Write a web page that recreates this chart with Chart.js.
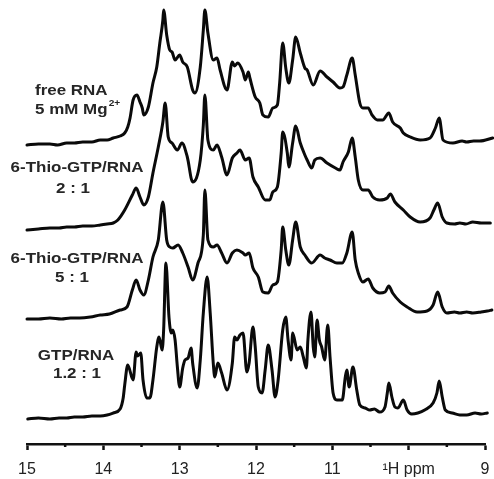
<!DOCTYPE html>
<html>
<head>
<meta charset="utf-8">
<script src="https://cdn.jsdelivr.net/npm/chart.js@4.4.1/dist/chart.umd.min.js"></script>
<style>
  html, body { margin: 0; padding: 0; background: #fff; }
  #wrap { width: 494px; height: 479px; }
</style>
</head>
<body>
<div id="wrap"><canvas id="nmr"></canvas></div>
<script>
// imino proton spectra, [ppm, intensity above the trace's own baseline]
const freeRna = [
  [15.00, 0], [14.85, 1], [14.70, 1], [14.60, 0], [14.48, 2], [14.38, 2], [14.27, 3], [14.15, 3],
  [14.04, 5], [13.95, 5], [13.87, 7], [13.78, 9], [13.72, 12], [13.68, 18], [13.65, 27], [13.61, 45],
  [13.56, 50], [13.52, 43], [13.49, 37], [13.47, 30], [13.41, 38], [13.35, 62], [13.30, 78],
  [13.26, 102], [13.22, 125], [13.21, 135], [13.17, 110], [13.13, 95], [13.10, 93], [13.06, 85],
  [13.00, 90], [12.96, 83], [12.90, 78], [12.83, 55], [12.80, 52], [12.73, 78], [12.69, 115],
  [12.67, 135], [12.63, 112], [12.56, 85], [12.51, 87], [12.47, 75], [12.38, 55], [12.31, 83],
  [12.28, 79], [12.24, 82], [12.17, 73], [12.14, 65], [12.10, 73], [12.08, 67], [12.01, 48],
  [11.95, 42], [11.91, 30], [11.84, 28], [11.78, 37], [11.72, 40], [11.69, 62], [11.65, 102],
  [11.61, 77], [11.57, 62], [11.52, 85], [11.48, 108], [11.42, 92], [11.36, 77], [11.33, 75],
  [11.25, 60], [11.16, 74], [11.07, 68], [10.99, 63], [10.90, 57], [10.86, 58], [10.81, 70],
  [10.74, 87], [10.70, 70], [10.64, 42], [10.60, 37], [10.53, 37], [10.48, 30], [10.41, 25],
  [10.34, 25], [10.26, 32], [10.21, 23], [10.11, 17], [10.07, 12], [9.98, 8], [9.85, 5],
  [9.72, 7], [9.65, 17], [9.60, 27], [9.55, 5], [9.42, 2], [9.30, 4], [9.24, 3], [9.15, 4],
  [9.07, 4], [8.90, 7]
];

const thio2to1 = [
  [15.00, 0], [14.85, 1], [14.70, 2], [14.58, 2], [14.48, 3], [14.38, 3], [14.27, 4], [14.15, 4],
  [14.04, 5], [13.95, 6], [13.87, 7], [13.81, 10], [13.72, 20], [13.62, 35], [13.57, 42],
  [13.52, 33], [13.47, 25], [13.41, 33], [13.35, 57], [13.28, 83], [13.22, 108], [13.19, 127],
  [13.15, 93], [13.10, 87], [13.03, 80], [12.97, 87], [12.90, 73], [12.83, 48], [12.73, 70],
  [12.69, 105], [12.67, 135], [12.63, 90], [12.56, 80], [12.51, 85], [12.45, 73], [12.38, 55],
  [12.31, 72], [12.25, 77], [12.21, 80], [12.14, 70], [12.09, 72], [12.04, 53], [11.97, 43],
  [11.88, 30], [11.82, 30], [11.78, 38], [11.72, 43], [11.67, 77], [11.65, 98], [11.59, 77],
  [11.57, 63], [11.52, 87], [11.48, 104], [11.42, 87], [11.36, 75], [11.33, 70], [11.27, 62],
  [11.23, 70], [11.16, 72], [11.07, 67], [10.96, 62], [10.90, 60], [10.86, 68], [10.79, 78],
  [10.74, 92], [10.70, 73], [10.66, 50], [10.60, 40], [10.53, 40], [10.47, 33], [10.38, 30],
  [10.28, 32], [10.24, 36], [10.18, 28], [10.07, 20], [9.98, 13], [9.85, 8], [9.72, 12],
  [9.67, 20], [9.62, 27], [9.56, 13], [9.50, 7], [9.40, 6], [9.33, 7], [9.25, 6], [9.16, 8],
  [9.05, 7], [8.93, 7]
];

const thio5to1 = [
  [15.00, 0], [14.85, 0], [14.70, 1], [14.55, 0], [14.43, 1], [14.31, 1], [14.17, 2], [14.04, 4],
  [13.92, 5], [13.78, 9], [13.69, 12], [13.62, 29], [13.57, 39], [13.52, 29], [13.47, 24],
  [13.41, 39], [13.35, 62], [13.28, 79], [13.22, 117], [13.17, 79], [13.13, 72], [13.09, 71],
  [13.02, 74], [12.96, 66], [12.89, 52], [12.83, 39], [12.76, 56], [12.69, 84], [12.67, 129],
  [12.63, 79], [12.56, 72], [12.51, 74], [12.45, 66], [12.38, 56], [12.31, 66], [12.25, 69],
  [12.17, 66], [12.14, 64], [12.09, 66], [12.04, 51], [11.97, 42], [11.91, 27], [11.84, 26],
  [11.78, 34], [11.72, 37], [11.67, 69], [11.65, 92], [11.61, 69], [11.57, 54], [11.52, 79],
  [11.48, 97], [11.42, 72], [11.36, 64], [11.27, 56], [11.16, 64], [11.10, 61], [11.03, 59],
  [10.94, 56], [10.87, 56], [10.81, 66], [10.74, 87], [10.70, 59], [10.66, 46], [10.60, 37],
  [10.53, 40], [10.47, 31], [10.38, 26], [10.31, 27], [10.26, 33], [10.21, 26], [10.11, 17],
  [10.02, 12], [9.89, 7], [9.76, 8], [9.68, 14], [9.62, 27], [9.56, 12], [9.50, 6], [9.40, 7],
  [9.33, 6], [9.24, 7], [9.16, 6], [9.05, 7], [8.97, 8], [8.91, 9]
];

const gtp12to1 = [
  [14.99, 0], [14.85, 1], [14.70, 0], [14.58, 1], [14.48, 1], [14.38, 2], [14.27, 2], [14.15, 3],
  [14.04, 3], [13.95, 4], [13.87, 6], [13.78, 10], [13.74, 21], [13.72, 34], [13.68, 54],
  [13.61, 39], [13.57, 67], [13.55, 63], [13.51, 66], [13.48, 39], [13.43, 21], [13.39, 21],
  [13.35, 39], [13.30, 72], [13.27, 82], [13.23, 69], [13.21, 89], [13.18, 156], [13.14, 102],
  [13.11, 86], [13.09, 89], [13.06, 79], [13.03, 52], [13.00, 32], [12.96, 51], [12.93, 59],
  [12.89, 61], [12.85, 71], [12.83, 56], [12.77, 31], [12.73, 59], [12.69, 106], [12.64, 142],
  [12.60, 106], [12.56, 56], [12.54, 42], [12.50, 56], [12.45, 46], [12.38, 29], [12.31, 56],
  [12.28, 82], [12.25, 79], [12.21, 84], [12.17, 86], [12.12, 47], [12.09, 56], [12.04, 92],
  [12.01, 72], [11.97, 32], [11.92, 26], [11.88, 49], [11.84, 74], [11.79, 49], [11.75, 22],
  [11.71, 39], [11.65, 89], [11.61, 102], [11.58, 79], [11.54, 59], [11.52, 86], [11.46, 69],
  [11.42, 72], [11.38, 62], [11.34, 51], [11.32, 79], [11.28, 107], [11.25, 72], [11.23, 62],
  [11.20, 99], [11.17, 79], [11.14, 72], [11.10, 59], [11.06, 94], [11.03, 62], [10.99, 26],
  [10.94, 19], [10.87, 19], [10.83, 42], [10.81, 49], [10.78, 32], [10.73, 52], [10.68, 29],
  [10.64, 14], [10.57, 11], [10.51, 9], [10.45, 10], [10.38, 7], [10.31, 12], [10.28, 26],
  [10.26, 36], [10.22, 22], [10.18, 12], [10.14, 11], [10.07, 19], [10.02, 9], [9.96, 5],
  [9.88, 6], [9.79, 9], [9.68, 16], [9.63, 26], [9.60, 38], [9.56, 22], [9.52, 9], [9.43, 6],
  [9.33, 4], [9.24, 4], [9.13, 6], [9.05, 5], [8.97, 6]
];

const spectra = [freeRna, thio2to1, thio5to1, gtp12to1];
// vertical stacking of the four traces
const traceOffsets = [299, 214, 125, 25];

const majorTicks = [15, 14, 13, 12, 11, 10, 9];
const minorTicks = [14.5, 13.5, 12.5, 11.5, 10.5, 9.5];
const unitTick = 10;

const sampleLabels = [
  { lines: ['free RNA', '5 mM Mg'], sup: '2+', x: [35, 35], y: [91, 110], align: 'left' },
  { lines: ['6-Thio-GTP/RNA', '2 : 1'], x: [77, 73], y: [168, 189], align: 'center' },
  { lines: ['6-Thio-GTP/RNA', '5 : 1'], x: [77, 72], y: [259, 278], align: 'center' },
  { lines: ['GTP/RNA', '1.2 : 1'], x: [76, 77], y: [356, 374], align: 'center' }
];

const FONT = '"Liberation Sans", Arial, sans-serif';

const labelPlugin = {
  id: 'sampleLabels',
  afterDraw(chart) {
    const ctx = chart.ctx;
    const xs = chart.scales.x;
    // short half-ppm ticks on the axis line
    ctx.save();
    ctx.strokeStyle = '#111';
    ctx.lineWidth = 2.5;
    minorTicks.forEach(v => {
      const px = xs.getPixelForValue(v);
      ctx.beginPath();
      ctx.moveTo(px, chart.chartArea.bottom);
      ctx.lineTo(px, chart.chartArea.bottom + 3);
      ctx.stroke();
    });
    ctx.restore();

    ctx.save();
    ctx.fillStyle = '#262626';
    ctx.textBaseline = 'middle';
    sampleLabels.forEach(lab => {
      lab.lines.forEach((txt, i) => {
        ctx.save();
        ctx.translate(lab.x[i], lab.y[i]);
        ctx.scale(1.13, 1);
        ctx.font = 'bold 15px ' + FONT;
        ctx.textAlign = lab.align;
        ctx.fillText(txt, 0, 0);
        if (lab.sup && i === 1) {
          const w = ctx.measureText(txt).width;
          ctx.font = 'bold 9px ' + FONT;
          ctx.textAlign = 'left';
          ctx.fillText(lab.sup, w + 1, -6);
        }
        ctx.restore();
      });
    });
    ctx.restore();
  }
};

new Chart(document.getElementById('nmr'), {
  type: 'line',
  data: {
    datasets: spectra.map((s, i) => ({
      data: s.map(p => ({ x: p[0], y: p[1] + traceOffsets[i] })),
      borderColor: '#0a0a0a',
      borderWidth: 3,
      pointRadius: 0,
      fill: false,
      cubicInterpolationMode: 'monotone',
      borderJoinStyle: 'round',
      borderCapStyle: 'round',
      clip: false
    }))
  },
  options: {
    responsive: true,
    maintainAspectRatio: false,
    animation: false,
    layout: { padding: { left: 27, right: 9, top: 0, bottom: 0 } },
    plugins: { legend: { display: false }, tooltip: { enabled: false } },
    scales: {
      x: {
        type: 'linear',
        reverse: true,
        min: 9,
        max: 15,
        afterBuildTicks: s => { s.ticks = majorTicks.map(v => ({ value: v })); },
        afterFit: s => { s.height = 35; },
        border: { display: true, color: '#111', width: 2.5 },
        grid: { drawOnChartArea: false, drawTicks: true, tickLength: 6, tickWidth: 2.5, tickColor: '#111' },
        ticks: {
          padding: 4,
          color: '#222',
          autoSkip: false,
          maxRotation: 0,
          font: { family: FONT, size: 16, lineHeight: 1.95 },
          callback: v => (v === unitTick ? '\u00B9H ppm' : String(v))
        }
      },
      y: { display: false, min: 0, max: 444 }
    }
  },
  plugins: [labelPlugin]
});
</script>
</body>
</html>
